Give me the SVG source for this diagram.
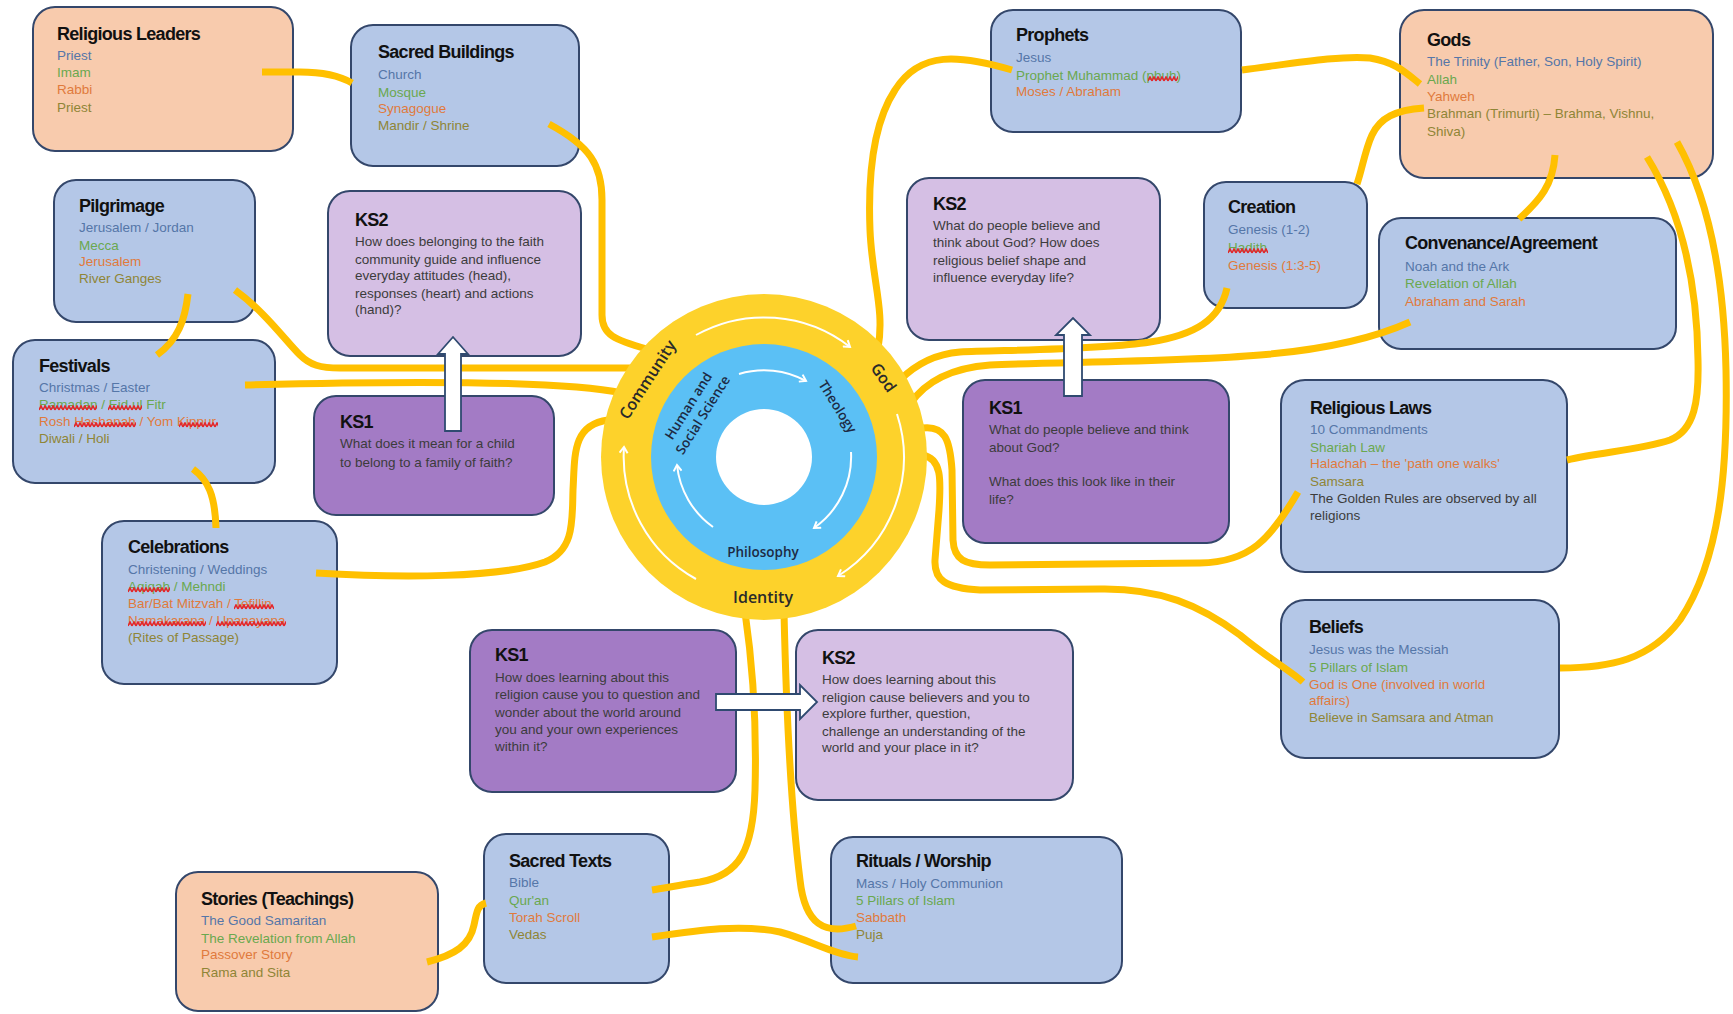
<svg xmlns="http://www.w3.org/2000/svg" width="1733" height="1014" viewBox="0 0 1733 1014">
<style>
.box{stroke:#34476b;stroke-width:2}
.blue{fill:#b4c7e7}.peach{fill:#f8cbad}.ks2{fill:#d5bfe4}.ks1{fill:#a37bc5}
.h{font-family:"Liberation Sans",Arial,sans-serif;font-weight:bold;font-size:18px;letter-spacing:-0.7px;fill:#111}
.t{font-family:"Liberation Sans",Arial,sans-serif;font-size:13.5px}
.c1{fill:#5576a8}.c2{fill:#6aa84f}.c3{fill:#e07a3c}.c4{fill:#8f8536}.dk{fill:#3c3c3c}
.ln{fill:none;stroke:#ffc000;stroke-width:7}
.ba{fill:#fff;stroke:#2f4a70;stroke-width:1.8}
.wa{fill:none;stroke:#fff;stroke-width:2}
.rt{font-family:"Open Sans","Noto Sans",sans-serif;font-weight:600;font-size:16px;fill:#2a2a2a}
.it{font-family:"Open Sans","Noto Sans",sans-serif;font-weight:600;font-size:13.5px;fill:#1d2a44}
</style>
<defs>
<pattern id="sq" width="4" height="6" patternUnits="userSpaceOnUse"><path d="M0,5 L2,1 L4,5" fill="none" stroke="#e3262b" stroke-width="1.6"/></pattern>
<marker id="ah" markerWidth="10" markerHeight="10" refX="7" refY="5" orient="auto" markerUnits="userSpaceOnUse"><path d="M1,1 L7,5 L1,9" fill="none" stroke="#fff" stroke-width="2"/></marker>
</defs>
<rect width="1733" height="1014" fill="#fff"/>

<g id="religious-leaders"><rect class="box peach" x="33" y="7" width="260" height="144" rx="22"/>
<text class="h" x="57" y="40">Religious Leaders</text>
<text class="t c1" x="57" y="60">Priest</text><text class="t c2" x="57" y="77">Imam</text><text class="t c3" x="57" y="94">Rabbi</text><text class="t c4" x="57" y="112">Priest</text></g>

<g id="sacred-buildings"><rect class="box blue" x="351" y="25" width="228" height="141" rx="22"/>
<text class="h" x="378" y="58">Sacred Buildings</text>
<text class="t c1" x="378" y="79">Church</text><text class="t c2" x="378" y="97">Mosque</text><text class="t c3" x="378" y="113">Synagogue</text><text class="t c4" x="378" y="130">Mandir / Shrine</text></g>

<g id="pilgrimage"><rect class="box blue" x="54" y="180" width="201" height="142" rx="22"/>
<text class="h" x="79" y="212">Pilgrimage</text>
<text class="t c1" x="79" y="232">Jerusalem / Jordan</text><text class="t c2" x="79" y="250">Mecca</text><text class="t c3" x="79" y="266">Jerusalem</text><text class="t c4" x="79" y="283">River Ganges</text></g>

<g id="ks2-community"><rect class="box ks2" x="328" y="191" width="253" height="165" rx="22"/>
<text class="h" x="355" y="226">KS2</text>
<text class="t dk" x="355" y="246">How does belonging to the faith</text>
<text class="t dk" x="355" y="264">community guide and influence</text>
<text class="t dk" x="355" y="280">everyday attitudes (head),</text>
<text class="t dk" x="355" y="298">responses (heart) and actions</text>
<text class="t dk" x="355" y="314">(hand)?</text></g>

<g id="festivals"><rect class="box blue" x="13" y="340" width="262" height="143" rx="22"/>
<text class="h" x="39" y="372">Festivals</text>
<text class="t c1" x="39" y="392">Christmas / Easter</text><text class="t c2" x="39" y="409">Ramadan / Eid ul Fitr</text><text class="t c3" x="39" y="426">Rosh Hashanah / Yom Kippur</text><text class="t c4" x="39" y="443">Diwali / Holi</text>
<g transform="translate(39,405)"><rect width="58" height="6" fill="url(#sq)"/></g>
<g transform="translate(108,405)"><rect width="34" height="6" fill="url(#sq)"/></g>
<g transform="translate(74,422)"><rect width="62" height="6" fill="url(#sq)"/></g>
<g transform="translate(179,422)"><rect width="39" height="6" fill="url(#sq)"/></g></g>

<g id="ks1-community"><rect class="box ks1" x="314" y="396" width="240" height="119" rx="22"/>
<text class="h" x="340" y="428">KS1</text>
<text class="t dk" x="340" y="448">What does it mean for a child</text>
<text class="t dk" x="340" y="467">to belong to a family of faith?</text></g>

<g id="celebrations"><rect class="box blue" x="102" y="521" width="235" height="163" rx="22"/>
<text class="h" x="128" y="553">Celebrations</text>
<text class="t c1" x="128" y="574">Christening / Weddings</text><text class="t c2" x="128" y="591">Aqiqah / Mehndi</text><text class="t c3" x="128" y="608">Bar/Bat Mitzvah / Tefillin</text><text class="t c3" x="128" y="625">Namakarana / Upanayana</text><text class="t c4" x="128" y="642">(Rites of Passage)</text>
<g transform="translate(128,587)"><rect width="42" height="6" fill="url(#sq)"/></g>
<g transform="translate(234,604)"><rect width="40" height="6" fill="url(#sq)"/></g>
<g transform="translate(128,621)"><rect width="78" height="6" fill="url(#sq)"/></g>
<g transform="translate(216,621)"><rect width="70" height="6" fill="url(#sq)"/></g></g>

<g id="ks1-identity"><rect class="box ks1" x="470" y="630" width="266" height="162" rx="22"/>
<text class="h" x="495" y="661">KS1</text>
<text class="t dk" x="495" y="682">How does learning about this</text>
<text class="t dk" x="495" y="699">religion cause you to question and</text>
<text class="t dk" x="495" y="717">wonder about the world around</text>
<text class="t dk" x="495" y="734">you and your own experiences</text>
<text class="t dk" x="495" y="751">within it?</text></g>

<g id="ks2-identity"><rect class="box ks2" x="796" y="630" width="277" height="170" rx="22"/>
<text class="h" x="822" y="664">KS2</text>
<text class="t dk" x="822" y="684">How does learning about this</text>
<text class="t dk" x="822" y="702">religion cause believers and you to</text>
<text class="t dk" x="822" y="718">explore further, question,</text>
<text class="t dk" x="822" y="736">challenge an understanding of the</text>
<text class="t dk" x="822" y="752">world and your place in it?</text></g>

<g id="stories"><rect class="box peach" x="176" y="872" width="262" height="139" rx="22"/>
<text class="h" x="201" y="905">Stories (Teachings)</text>
<text class="t c1" x="201" y="925">The Good Samaritan</text><text class="t c2" x="201" y="943">The Revelation from Allah</text><text class="t c3" x="201" y="959">Passover Story</text><text class="t c4" x="201" y="977">Rama and Sita</text></g>

<g id="sacred-texts"><rect class="box blue" x="484" y="834" width="185" height="149" rx="22"/>
<text class="h" x="509" y="867">Sacred Texts</text>
<text class="t c1" x="509" y="887">Bible</text><text class="t c2" x="509" y="905">Qur'an</text><text class="t c3" x="509" y="922">Torah Scroll</text><text class="t c4" x="509" y="939">Vedas</text></g>

<g id="rituals-worship"><rect class="box blue" x="831" y="837" width="291" height="146" rx="22"/>
<text class="h" x="856" y="867">Rituals / Worship</text>
<text class="t c1" x="856" y="888">Mass / Holy Communion</text><text class="t c2" x="856" y="905">5 Pillars of Islam</text><text class="t c3" x="856" y="922">Sabbath</text><text class="t c4" x="856" y="939">Puja</text></g>

<g id="prophets"><rect class="box blue" x="991" y="10" width="250" height="122" rx="22"/>
<text class="h" x="1016" y="41">Prophets</text>
<text class="t c1" x="1016" y="62">Jesus</text><text class="t c2" x="1016" y="80">Prophet Muhammad (pbuh)</text><text class="t c3" x="1016" y="96">Moses / Abraham</text>
<g transform="translate(1148,76)"><rect width="30" height="6" fill="url(#sq)"/></g></g>

<g id="gods"><rect class="box peach" x="1400" y="10" width="313" height="168" rx="24"/>
<text class="h" x="1427" y="46">Gods</text>
<text class="t c1" x="1427" y="66">The Trinity (Father, Son, Holy Spirit)</text><text class="t c2" x="1427" y="84">Allah</text><text class="t c3" x="1427" y="101">Yahweh</text><text class="t c4" x="1427" y="118">Brahman (Trimurti) – Brahma, Vishnu,</text><text class="t c4" x="1427" y="136">Shiva)</text></g>

<g id="ks2-god"><rect class="box ks2" x="907" y="178" width="253" height="162" rx="22"/>
<text class="h" x="933" y="210">KS2</text>
<text class="t dk" x="933" y="230">What do people believe and</text>
<text class="t dk" x="933" y="247">think about God? How does</text>
<text class="t dk" x="933" y="265">religious belief shape and</text>
<text class="t dk" x="933" y="282">influence everyday life?</text></g>

<g id="creation"><rect class="box blue" x="1204" y="182" width="163" height="126" rx="22"/>
<text class="h" x="1228" y="213">Creation</text>
<text class="t c1" x="1228" y="234">Genesis (1-2)</text><text class="t c2" x="1228" y="252">Hadith</text><text class="t c3" x="1228" y="270">Genesis (1:3-5)</text>
<g transform="translate(1228,248)"><rect width="40" height="6" fill="url(#sq)"/></g></g>

<g id="convenance"><rect class="box blue" x="1379" y="218" width="297" height="131" rx="22"/>
<text class="h" x="1405" y="249">Convenance/Agreement</text>
<text class="t c1" x="1405" y="271">Noah and the Ark</text><text class="t c2" x="1405" y="288">Revelation of Allah</text><text class="t c3" x="1405" y="306">Abraham and Sarah</text></g>

<g id="ks1-god"><rect class="box ks1" x="963" y="380" width="266" height="163" rx="22"/>
<text class="h" x="989" y="414">KS1</text>
<text class="t dk" x="989" y="434">What do people believe and think</text>
<text class="t dk" x="989" y="452">about God?</text>
<text class="t dk" x="989" y="486">What does this look like in their</text>
<text class="t dk" x="989" y="504">life?</text></g>

<g id="religious-laws"><rect class="box blue" x="1281" y="380" width="286" height="192" rx="24"/>
<text class="h" x="1310" y="414">Religious Laws</text>
<text class="t c1" x="1310" y="434">10 Commandments</text><text class="t c2" x="1310" y="452">Shariah Law</text><text class="t c3" x="1310" y="468">Halachah – the 'path one walks'</text><text class="t c4" x="1310" y="486">Samsara</text><text class="t dk" x="1310" y="503">The Golden Rules are observed by all</text><text class="t dk" x="1310" y="520">religions</text></g>

<g id="beliefs"><rect class="box blue" x="1281" y="600" width="278" height="158" rx="24"/>
<text class="h" x="1309" y="633">Beliefs</text>
<text class="t c1" x="1309" y="654">Jesus was the Messiah</text><text class="t c2" x="1309" y="672">5 Pillars of Islam</text><text class="t c3" x="1309" y="689">God is One (involved in world</text><text class="t c3" x="1309" y="705">affairs)</text><text class="t c4" x="1309" y="722">Believe in Samsara and Atman</text></g>

<g id="connectors">
<path class="ln" d="M262,72 L300,72 C325,72 340,76 352,83"/>
<path class="ln" d="M549,124 C590,146 602,165 602,200 L602,315 C602,335 615,340 647,349"/>
<path class="ln" d="M235,290 C265,312 285,340 300,355 C310,365 320,368 340,368 L632,368"/>
<path class="ln" d="M245,385 C400,381 560,380 622,393"/>
<path class="ln" d="M188,294 C185,320 178,340 157,355"/>
<path class="ln" d="M193,469 C208,480 215,495 216,528"/>
<path class="ln" d="M316,573 C400,578 500,578 545,562 C575,550 572,520 573,490 C575,455 572,425 608,420"/>
<path class="ln" d="M745,612 C752,660 757,720 755,790 C753,850 740,875 700,882 C680,885 665,888 652,890"/>
<path class="ln" d="M784,612 C786,700 790,800 800,880 C805,925 825,935 856,926"/>
<path class="ln" d="M652,937 C700,930 740,924 780,932 C810,940 835,955 858,957"/>
<path class="ln" d="M427,962 C455,955 470,945 474,925 C477,910 478,905 486,903"/>
<path class="ln" d="M1012,70 C960,55 920,50 895,90 C872,125 868,180 870,230 C872,280 885,310 878,348"/>
<path class="ln" d="M1242,70 C1290,64 1340,55 1370,58 C1395,62 1405,72 1420,84"/>
<path class="ln" d="M1424,108 C1395,110 1380,118 1372,135 C1365,150 1362,170 1357,184"/>
<path class="ln" d="M1555,155 C1553,185 1540,200 1519,219"/>
<path class="ln" d="M1647,157 C1680,210 1697,280 1698,360 C1699,400 1695,430 1670,440 C1640,450 1600,452 1567,460"/>
<path class="ln" d="M1677,142 C1710,200 1724,280 1726,370 C1728,470 1720,560 1680,620 C1650,660 1610,668 1560,668"/>
<path class="ln" d="M1227,288 C1220,320 1195,335 1150,342 C1100,350 1000,350 960,352 C935,354 915,365 900,380"/>
<path class="ln" d="M1410,322 C1370,340 1320,350 1260,355 C1180,362 1050,362 990,365 C950,368 925,382 910,404"/>
<path class="ln" d="M922,428 C945,425 950,440 952,470 L953,540 C954,560 965,565 990,565 L1200,563 C1250,562 1270,540 1298,492"/>
<path class="ln" d="M922,455 C942,458 941,480 939,510 L935,560 C934,580 945,588 980,590 L1100,589 C1160,588 1200,605 1240,635 C1270,660 1290,670 1303,682"/>
<path class="ba" d="M445,431 L445,354 L438,354 L453,337 L468,354 L461,354 L461,431 Z"/>
<path class="ba" d="M1064,396 L1064,335 L1056,335 L1073,318 L1090,335 L1082,335 L1082,396 Z"/>
<path class="ba" d="M716,694 L800,694 L800,685 L817,702 L800,719 L800,710 L716,710 Z"/>
</g>

<g id="core-circle">
<circle cx="764" cy="457" r="163" fill="#fdd22b"/>
<circle cx="764" cy="457" r="113" fill="#5bc0f5"/>
<circle cx="764" cy="457" r="48" fill="#fff"/>
<path class="wa" d="M696,335 A140,140 0 0 1 850,347" marker-end="url(#ah)"/>
<path class="wa" d="M897,414 A140,140 0 0 1 838,576" marker-end="url(#ah)"/>
<path class="wa" d="M696,579 A140,140 0 0 1 624,447" marker-end="url(#ah)"/>
<path class="wa" d="M739,374 A87,87 0 0 1 806,381" marker-end="url(#ah)"/>
<path class="wa" d="M851,452 A87,87 0 0 1 814,528" marker-end="url(#ah)"/>
<path class="wa" d="M713,527 A87,87 0 0 1 677,465" marker-end="url(#ah)"/>
<text class="rt" transform="translate(648,380) rotate(-57)" text-anchor="middle" y="5">Community</text>
<text class="rt" transform="translate(883,378) rotate(55)" text-anchor="middle" y="5">God</text>
<text class="rt" x="763" y="603" text-anchor="middle">Identity</text>
<g transform="translate(695,410) rotate(-58)"><text class="it" text-anchor="middle" y="-3">Human and</text><text class="it" text-anchor="middle" y="14">Social Science</text></g>
<text class="it" transform="translate(837,407) rotate(58)" text-anchor="middle" y="4">Theology</text>
<text class="it" x="763" y="557" text-anchor="middle">Philosophy</text>
</g>
</svg>
